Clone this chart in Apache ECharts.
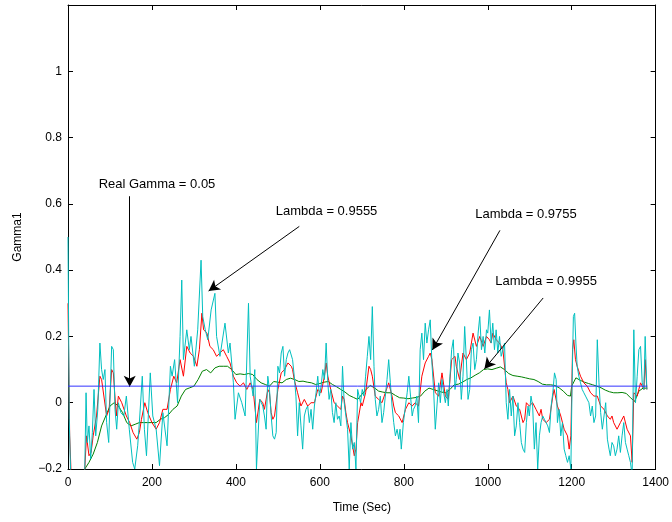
<!DOCTYPE html>
<html>
<head>
<meta charset="utf-8">
<script src="https://cdn.jsdelivr.net/npm/echarts@6/dist/echarts.min.js"></script>
<style>html,body{margin:0;padding:0;background:#fff}#c{width:672px;height:522px}</style>
</head>
<body>
<div id="c"></div>
<script>
// ---- data ----
var xTicks = [0, 200, 400, 600, 800, 1000, 1200, 1400];
var yTicks = [-0.2, 0, 0.2, 0.4, 0.6, 0.8, 1];

var realGammaT = [0, 1380];
var realGammaV = [0.05, 0.05];

// Lambda = 0.9555 (cyan)
var cyanT = [0,3,6,12,30,40,43,46,50,54,58,62,66,71,76,80,84,88,92,97,104,108,112,116,120,126,133,139,146,154,159,166,170,177,182,187,196,202,210,218,226,236,244,248,254,261,267,271,275,283,289,293,301,309,317,321,327,333,341,350,354,362,374,382,386,390,394,398,406,414,422,430,434,441,445,449,457,464,468,472,476,480,484,488,492,496,500,504,508,512,516,520,524,528,532,535,539,543,547,551,555,559,563,567,571,575,579,583,587,591,595,599,603,607,611,615,619,622,626,630,634,638,642,646,650,654,658,662,666,670,674,678,682,686,690,697,701,705,709,713,717,721,725,729,732,736,740,744,748,752,756,760,764,768,772,776,780,784,788,791,794,799,804,808,812,816,820,823,827,831,835,839,843,847,851,855,859,863,867,871,875,879,883,887,891,895,899,903,906,910,914,918,922,925,929,933,937,941,945,949,953,957,961,965,969,973,977,981,985,989,993,997,1000,1004,1008,1012,1016,1020,1024,1028,1032,1036,1040,1044,1048,1052,1056,1060,1064,1068,1072,1076,1080,1084,1088,1092,1096,1099,1103,1107,1111,1115,1119,1123,1127,1131,1135,1139,1143,1147,1151,1155,1159,1163,1166,1170,1174,1178,1182,1186,1190,1194,1198,1201,1204,1207,1210,1213,1217,1221,1225,1229,1233,1237,1241,1245,1249,1253,1257,1261,1265,1269,1273,1277,1281,1285,1289,1292,1296,1300,1304,1308,1312,1316,1320,1324,1328,1332,1336,1340,1344,1348,1352,1356,1360,1364,1368,1372,1375,1379];
var cyanV = [0.5,-0.05,-0.2,-0.28,-0.3,-0.2,0.03,-0.12,-0.07,-0.17,-0.09,0.04,-0.1,-0.02,0.18,0.1,0.07,0.1,-0.06,-0.12,0.17,0.16,-0.02,-0.08,0,-0.03,-0.04,0.02,-0.08,-0.18,-0.2,-0.13,-0.06,0.08,-0.08,-0.16,0.09,-0.04,-0.08,-0.19,-0.03,-0.13,0.11,0.08,0.13,0,0.2,0.37,0.13,0.22,0.16,0.2,0.11,0.22,0.43,0.26,0.22,0.19,0.28,0.33,0.2,0.14,0.24,0.15,0.18,0.18,0.06,-0.05,0.03,0,-0.04,0.3,0.08,0.02,0.1,-0.2,0.01,-0.01,-0.04,-0.08,0.08,0.04,-0.04,-0.1,-0.11,-0.09,0.11,0.09,0.15,0.17,0.08,0.13,0.15,0.16,0.16,0.13,0.08,0.02,-0.1,0,-0.07,-0.14,-0.04,-0.02,-0.01,-0.06,-0.02,-0.08,-0.01,0.03,0.08,0.02,0.05,0.1,0.07,0.18,0.06,0.01,0.04,-0.03,-0.06,0,-0.05,-0.04,-0.07,0.11,0,-0.04,-0.08,-0.2,-0.06,-0.14,-0.12,-0.2,0.04,0,0.04,0.02,0.08,0.14,0.2,0.13,0.29,0.11,0.01,-0.04,-0.02,0.02,-0.06,-0.03,0.02,0.07,0.13,0.06,-0.01,-0.06,-0.1,-0.08,-0.11,-0.08,-0.14,-0.06,-0.01,0.03,0.08,0.02,-0.04,-0.02,-0.01,0.02,-0.06,0.16,0.21,0.13,0.24,0.18,0.22,0.25,0.12,0.04,-0.08,-0.01,0.06,0,0.07,0.03,0,0.04,-0.01,0.08,0.16,0.19,0.04,0.07,0.15,0.12,0.01,0.08,0.23,0.13,0.01,0.04,0.16,0.18,0.1,0.13,0.21,0.26,0.16,0.2,0.15,0.22,0.21,0.28,0.18,0.24,0.16,0.22,0.15,0.2,0.14,0.16,0.18,0,-0.05,0.04,-0.04,0.02,-0.1,-0.07,0,-0.06,-0.12,-0.14,-0.15,-0.06,-0.01,-0.04,0.02,-0.01,-0.14,-0.06,-0.2,-0.1,-0.06,-0.04,-0.05,-0.06,-0.07,-0.09,-0.01,0.03,0.09,0.07,-0.06,-0.02,-0.1,-0.06,-0.14,-0.16,-0.18,-0.16,-0.2,0.06,0.26,0.27,0.18,0.11,0.08,0.06,0.04,0.03,0.02,0.02,0,-0.04,-0.01,-0.06,-0.04,0.19,0.06,-0.03,-0.08,-0.04,0,-0.11,-0.14,-0.16,-0.12,-0.13,-0.16,-0.14,-0.1,-0.15,-0.1,-0.06,-0.12,-0.14,-0.16,-0.18,-0.22,0.22,0,0.08,0.16,0.17,0.06,0.04,0.2,0.04];

// Lambda = 0.9755 (red)
var redT = [0,4,10,30,40,44,50,55,60,68,76,80,84,92,98,104,108,115,120,128,139,147,155,164,170,175,183,190,200,210,218,226,236,244,252,259,267,275,283,291,299,307,313,319,323,331,338,346,354,362,370,378,386,394,402,410,418,426,434,441,449,457,464,468,476,480,484,488,492,500,508,516,524,532,535,539,547,555,563,567,571,579,587,595,603,611,615,619,626,634,642,650,654,658,662,666,674,678,682,686,690,698,701,709,717,721,725,732,740,748,756,764,772,776,780,788,796,804,812,820,827,835,843,851,859,863,867,875,883,891,899,906,914,922,925,933,941,949,957,965,973,981,989,997,1004,1008,1012,1020,1028,1036,1044,1048,1052,1060,1068,1076,1084,1088,1092,1099,1107,1115,1123,1127,1131,1139,1147,1155,1158,1166,1174,1182,1190,1194,1198,1202,1205,1209,1213,1221,1229,1237,1245,1253,1261,1269,1277,1285,1292,1296,1300,1308,1316,1324,1332,1340,1344,1348,1356,1364,1372,1375,1379];
var redV = [0.3,-0.1,-0.3,-0.35,-0.2,-0.1,-0.16,-0.15,-0.1,-0.04,0.08,0.07,0.07,-0.04,-0.02,0.1,0.09,-0.04,0.02,0,-0.04,-0.06,-0.09,-0.11,-0.09,-0.05,0,-0.03,-0.06,-0.08,-0.06,-0.02,-0.02,0.04,0.08,0.06,0.13,0.08,0.17,0.15,0.14,0.11,0.16,0.27,0.22,0.21,0.17,0.16,0.14,0.15,0.16,0.14,0.12,0.08,0.06,0.05,0.06,0.04,0.06,0.04,-0.06,0.01,0,-0.02,0.04,0.03,-0.03,-0.05,-0.04,0.04,0.09,0.1,0.12,0.11,0.1,0.07,0.03,-0.01,0.01,0,-0.01,0,0,0.04,0.03,0.08,0.12,0.08,0.04,0,-0.01,-0.02,0.02,0.01,-0.03,-0.06,-0.1,-0.13,-0.16,-0.14,-0.06,0,-0.01,0.03,0.11,0.1,0.08,0.02,0.01,0,0.03,0.06,0.02,-0.01,-0.03,-0.04,-0.06,-0.02,0,-0.01,0,-0.01,0.08,0.12,0.14,0.15,0.13,0.03,0.02,0.09,0.02,0.01,0.13,0.14,0.11,0.07,0.15,0.13,0.15,0.21,0.17,0.2,0.17,0.2,0.19,0.18,0.21,0.19,0.18,0.16,0.06,0.04,0,0.02,-0.01,-0.02,-0.06,-0.05,0,-0.01,0,-0.02,-0.04,-0.02,-0.05,-0.06,-0.05,0.02,0.04,-0.01,-0.04,-0.08,-0.1,-0.14,-0.1,0.16,0.19,0.13,0.11,0.08,0.06,0.05,0.03,0.02,0.02,-0.01,-0.02,-0.04,-0.05,-0.04,-0.06,-0.08,-0.06,-0.04,-0.08,-0.1,-0.18,0.03,0.02,0.06,0.04,0.13,0.04];

// Lambda = 0.9955 (green)
var greenT = [0,10,20,30,40,50,60,70,80,90,100,110,120,130,140,150,160,170,180,190,200,210,220,230,240,250,260,270,280,290,300,310,320,330,340,350,360,370,380,390,400,410,420,430,440,450,460,470,480,490,500,510,520,530,540,550,560,570,580,590,600,610,620,630,640,650,660,670,680,690,700,710,720,730,740,750,760,770,780,790,800,810,820,830,840,850,860,870,880,890,900,910,920,930,940,950,960,970,980,990,1000,1010,1020,1030,1040,1050,1060,1070,1080,1090,1100,1110,1120,1130,1140,1150,1160,1170,1180,1190,1197,1200,1210,1220,1230,1240,1250,1260,1270,1280,1290,1300,1310,1320,1330,1340,1350,1360,1370,1380];
var greenV = [-0.5,-0.4,-0.3,-0.25,-0.2,-0.18,-0.155,-0.12,-0.07,-0.04,-0.01,0,-0.01,-0.03,-0.06,-0.07,-0.065,-0.06,-0.06,-0.06,-0.06,-0.06,-0.05,-0.045,-0.035,-0.02,-0.01,0.02,0.04,0.045,0.05,0.07,0.095,0.1,0.09,0.105,0.11,0.11,0.11,0.1,0.085,0.087,0.085,0.088,0.085,0.07,0.06,0.055,0.05,0.064,0.062,0.06,0.07,0.074,0.07,0.064,0.065,0.062,0.06,0.055,0.058,0.062,0.064,0.055,0.048,0.04,0.032,0.022,0.016,0.01,0.025,0.04,0.052,0.045,0.035,0.032,0.03,0.03,0.022,0.015,0.014,0.012,0.014,0.016,0.02,0.035,0.044,0.04,0.036,0.032,0.03,0.04,0.054,0.056,0.062,0.07,0.075,0.083,0.09,0.1,0.102,0.1,0.104,0.108,0.1,0.088,0.082,0.08,0.078,0.075,0.072,0.07,0.064,0.056,0.054,0.054,0.052,0.045,0.035,0.022,0.02,0.05,0.075,0.068,0.062,0.058,0.054,0.05,0.045,0.038,0.033,0.03,0.03,0.031,0.028,0.015,0.004,0.035,0.044,0.044];

// annotations (data coordinates)
var noteTexts = ['Real Gamma = 0.05', 'Lambda = 0.9555', 'Lambda = 0.9755', 'Lambda = 0.9955'];
var noteT = [212, 616, 1091, 1139];
var noteV = [0.659, 0.577, 0.568, 0.367];
var arrowFromT = [147, 551, 1029, 1132];
var arrowFromV = [0.623, 0.532, 0.52, 0.316];
var arrowToT = [147, 335, 868, 992];
var arrowToV = [0.048, 0.337, 0.159, 0.102];

function pairs(t, v) { return t.map(function (x, i) { return [x, v[i]]; }); }

var FONT = 'Liberation Sans, Arial, Helvetica, sans-serif';
var chart = echarts.init(document.getElementById('c'), null, { renderer: 'canvas' });

var lineBase = { type: 'line', showSymbol: false, symbol: 'none', animation: false, clip: true, xAxisIndex: 0, yAxisIndex: 0 };

function fmtY(v) {
  if (Math.abs(v - 1.2) < 1e-6) return '';
  var s = (Math.round(v * 10) / 10).toString();
  return s.replace('-', '\u2212');
}
function fmtX(v) { return String(Math.round(v)); }

var axisCommonX = {
  type: 'value', min: 0, max: 1400, interval: 200,
  axisLine: { show: true, onZero: false, lineStyle: { color: '#000', width: 1 } },
  axisTick: { show: true, inside: true, length: 5, lineStyle: { color: '#000' } },
  splitLine: { show: false }
};
var axisCommonY = {
  type: 'value', min: -0.2, max: 1.2, interval: 0.2,
  axisLine: { show: true, onZero: false, lineStyle: { color: '#000', width: 1 } },
  axisTick: { show: true, inside: true, length: 5, lineStyle: { color: '#000' } },
  splitLine: { show: false }
};

var markData = arrowFromT.map(function (t, i) {
  return [{ coord: [t, arrowFromV[i]] }, { coord: [arrowToT[i], arrowToV[i]] }];
});

chart.setOption({
  animation: false,
  backgroundColor: '#fff',
  grid: { left: 68, right: 14, top: 5, bottom: 53, containLabel: false },
  xAxis: [
    Object.assign({}, axisCommonX, {
      position: 'bottom',
      name: 'Time (Sec)', nameLocation: 'middle', nameGap: 33,
      nameTextStyle: { color: '#000', fontSize: 12, fontFamily: FONT },
      axisLabel: { color: '#000', fontSize: 12, fontFamily: FONT, margin: 8, formatter: fmtX }
    }),
    Object.assign({}, axisCommonX, { position: 'top', axisLabel: { show: false } })
  ],
  yAxis: [
    Object.assign({}, axisCommonY, {
      position: 'left',
      name: 'Gamma1', nameLocation: 'middle', nameGap: 44, nameRotate: 90,
      nameTextStyle: { color: '#000', fontSize: 12, fontFamily: FONT },
      axisLabel: { color: '#000', fontSize: 12, fontFamily: FONT, margin: 6, formatter: fmtY }
    }),
    Object.assign({}, axisCommonY, { position: 'right', axisLabel: { show: false } })
  ],
  series: [
    Object.assign({}, lineBase, { name: 'Lambda = 0.9955', data: pairs(greenT, greenV), lineStyle: { color: '#008000', width: 1 }, z: 2 }),
    Object.assign({}, lineBase, { name: 'Lambda = 0.9755', data: pairs(redT, redV), lineStyle: { color: '#ff0000', width: 1 }, z: 3 }),
    Object.assign({}, lineBase, { name: 'Lambda = 0.9555', data: pairs(cyanT, cyanV), lineStyle: { color: '#00bfbf', width: 1 }, z: 4 }),
    Object.assign({}, lineBase, {
      name: 'Real Gamma', data: pairs(realGammaT, realGammaV), lineStyle: { color: '#3333ff', width: 1 }, z: 5,
      markLine: {
        silent: true, animation: false,
        symbol: ['none', 'arrow'], symbolSize: [9, 11],
        lineStyle: { color: '#000', width: 1, type: 'solid' },
        label: { show: false },
        data: markData
      }
    }),
    {
      type: 'scatter', name: 'notes', xAxisIndex: 0, yAxisIndex: 0, symbolSize: 0, silent: true, animation: false, z: 6,
      data: noteTexts.map(function (s, i) { return [noteT[i], noteV[i], s]; }),
      label: {
        show: true, position: 'inside', color: '#000', fontSize: 13, fontFamily: FONT,
        textBorderWidth: 0, opacity: 1,
        formatter: function (p) { return p.value[2]; }
      }
    }
  ]
});
</script>
</body>
</html>
